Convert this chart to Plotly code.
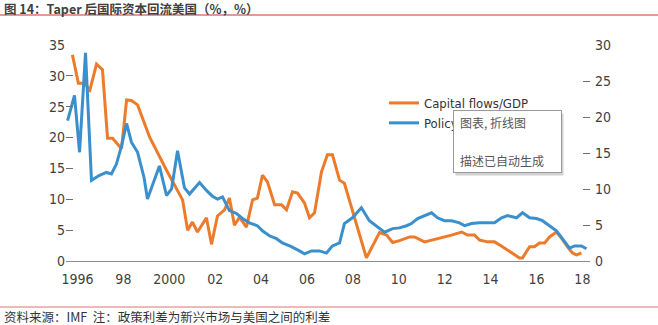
import plotly.graph_objects as go

# ---- data -------------------------------------------------------------
# Capital flows / GDP (%, left axis)
flow_year = [1996.28, 1996.54, 1996.85, 1997.02, 1997.33, 1997.59, 1997.81, 1998.03,
             1998.42, 1998.64, 1998.85, 1999.12, 1999.64, 2000.07, 2000.38, 2001.08,
             2001.30, 2001.51, 2001.73, 2002.12, 2002.34, 2002.60, 2002.91, 2003.12,
             2003.34, 2003.56, 2003.86, 2004.13, 2004.34, 2004.56, 2004.78, 2005.09,
             2005.39, 2005.61, 2005.87, 2006.09, 2006.39, 2006.61, 2006.83, 2007.13,
             2007.39, 2007.61, 2007.92, 2008.13, 2008.48, 2008.79, 2009.09, 2009.66,
             2009.97, 2010.23, 2010.53, 2010.97, 2011.19, 2011.62, 2011.97, 2012.36,
             2012.80, 2013.24, 2013.50, 2013.80, 2014.02, 2014.37, 2014.67, 2015.02,
             2015.41, 2015.76, 2015.89, 2016.20, 2016.41, 2016.63, 2016.85, 2017.07,
             2017.37, 2017.59, 2017.85, 2018.07, 2018.24, 2018.46]
flow_pct = [33.4, 28.8, 28.8, 27.4, 31.9, 31.0, 19.9, 19.9,
            18.2, 26.1, 26.0, 25.3, 20.1, 16.9, 14.7, 9.9,
            5.0, 6.3, 4.7, 7.0, 2.7, 7.3, 8.3, 10.2,
            5.8, 7.1, 5.5, 9.9, 10.2, 13.9, 12.8, 9.1,
            9.1, 8.3, 11.2, 11.0, 9.4, 7.0, 7.8, 14.4,
            17.2, 17.2, 13.1, 12.6, 8.3, 4.5, 0.5, 4.6,
            4.2, 3.0, 3.3, 3.9, 3.9, 3.1, 3.4, 3.7,
            4.2, 4.7, 4.2, 4.2, 3.4, 3.1, 3.1, 2.3,
            1.3, 0.5, 0.5, 2.3, 2.3, 2.9, 2.9, 3.9,
            4.7, 3.7, 2.3, 1.3, 1.0, 1.3]

# Policy rate differential (%, right axis)
spread_year = [1996.07, 1996.37, 1996.59, 1996.85, 1997.11, 1997.46, 1997.76, 1997.98,
               1998.20, 1998.42, 1998.64, 1998.85, 1999.12, 1999.40, 1999.55, 2000.07,
               2000.38, 2000.60, 2000.86, 2001.16, 2001.38, 2001.82, 2002.12, 2002.38,
               2002.60, 2002.82, 2003.12, 2003.43, 2003.69, 2003.99, 2004.34, 2004.56,
               2004.86, 2005.17, 2005.43, 2005.82, 2006.17, 2006.39, 2006.70, 2007.05,
               2007.35, 2007.61, 2007.92, 2008.13, 2008.48, 2008.87, 2009.22, 2009.66,
               2009.88, 2010.23, 2010.53, 2010.84, 2011.05, 2011.32, 2011.62, 2011.93,
               2012.19, 2012.49, 2012.80, 2013.15, 2013.37, 2013.67, 2014.02, 2014.32,
               2014.67, 2014.98, 2015.24, 2015.63, 2015.89, 2016.20, 2016.50, 2016.76,
               2017.07, 2017.37, 2017.63, 2017.94, 2018.16, 2018.46, 2018.68]
spread_pct = [19.5, 23.0, 15.1, 28.9, 11.2, 11.9, 12.3, 12.1,
              13.5, 16.0, 19.1, 16.5, 15.1, 11.6, 8.6, 13.2,
              9.1, 10.0, 15.3, 10.2, 9.3, 10.9, 9.8, 9.0,
              8.6, 8.9, 7.0, 6.6, 5.9, 5.3, 4.9, 4.2,
              3.5, 3.1, 2.5, 2.0, 1.4, 1.0, 1.4, 1.4,
              1.1, 2.1, 2.5, 5.2, 6.0, 7.4, 5.6, 4.6,
              4.0, 4.5, 4.6, 4.9, 5.2, 5.9, 6.3, 6.7,
              6.0, 5.6, 5.6, 5.3, 4.9, 5.2, 5.3, 5.3,
              5.3, 6.0, 6.3, 6.0, 6.7, 6.0, 5.9, 5.6,
              4.9, 4.2, 3.1, 1.8, 2.1, 2.1, 1.7]

left_ticks = [0, 5, 10, 15, 20, 25, 30, 35]
right_ticks = [0, 5, 10, 15, 20, 25, 30]
label_years = [1996, 1998, 2000, 2002, 2004, 2006, 2008, 2010, 2012, 2014, 2016, 2018]
year_labels = ["1996", "98", "2000", "02", "04", "06", "08", "10", "12", "14", "16", "18"]

title_text = "图 14：Taper 后国际资本回流美国（%，%）"
source_text = "资料来源：IMF  注：政策利差为新兴市场与美国之间的利差"
popup_lines = ["图表, 折线图", "描述已自动生成"]

# ---- styling ----------------------------------------------------------
W, H = 658, 325
L, R, T, B = 66, 68, 45, 64
PW, PH = W - L - R, H - T - B

ORANGE = "#EC7B2C"
BLUE = "#3A90CC"
AXIS = "#8C8C8C"
TXT = "#3F3F3F"
RED = "#D9786F"
NARROW = "Liberation Sans Narrow, Arial Narrow, DejaVu Sans Condensed, sans-serif"
CJK = "Noto Sans CJK SC, sans-serif"


def fx(p):
    """pixel x -> paper x"""
    return (p - L) / PW


def fy(p):
    """pixel y -> paper y"""
    return (H - B - p) / PH


x_end = 1996 + PW / 22.95

fig = go.Figure()
fig.add_trace(go.Scatter(x=flow_year, y=flow_pct, mode="lines", name="Capital flows/GDP",
                         line=dict(color=ORANGE, width=3), xaxis="x", yaxis="y"))
fig.add_trace(go.Scatter(x=spread_year, y=spread_pct, mode="lines",
                         name="Policy rate differential",
                         line=dict(color=BLUE, width=3), xaxis="x", yaxis="y2"))

tickfont = dict(family=NARROW, size=14, color=TXT)

fig.update_layout(
    width=W, height=H,
    margin=dict(l=L, r=R, t=T, b=B, autoexpand=False),
    paper_bgcolor="white", plot_bgcolor="white",
    showlegend=True,
    legend=dict(x=fx(384), y=fy(88), xanchor="left", yanchor="top",
                bgcolor="rgba(0,0,0,0)", font=dict(family=NARROW, size=13, color="#333"),
                tracegroupgap=0, itemclick=False),
    xaxis=dict(range=[1996, x_end], tickmode="array",
               tickvals=[y + 0.5 for y in label_years], ticktext=year_labels,
               ticks="outside", ticklen=5, tickcolor="rgba(0,0,0,0)",
               showline=True, linecolor=AXIS, linewidth=1.2,
               showgrid=False, zeroline=False, tickfont=tickfont),
    xaxis2=dict(range=[1996, x_end], overlaying="x", anchor="y", side="bottom",
                tickmode="linear", tick0=1996, dtick=1, ticks="inside",
                ticklen=5, tickwidth=1, tickcolor=AXIS,
                minor=dict(tickmode="linear", tick0=1996, dtick=0.25, ticks="inside",
                           ticklen=3, tickwidth=1, tickcolor=AXIS),
                showticklabels=False, showline=False, showgrid=False, zeroline=False),
    yaxis=dict(range=[0, 35], tickmode="array", tickvals=left_ticks,
               ticks="inside", ticklen=7, tickwidth=1.3, tickcolor="#6E6E6E",
               showline=False, showgrid=False, zeroline=False, tickfont=tickfont),
    yaxis2=dict(range=[0, 30], tickmode="array", tickvals=right_ticks,
                overlaying="y", side="right", anchor="x",
                ticks="inside", ticklen=7, tickwidth=1.3, tickcolor="#6E6E6E",
                ticklabelstandoff=4,
                showline=False, showgrid=False, zeroline=False, tickfont=tickfont),
)

# header / footer rules
fig.add_shape(type="line", xref="paper", yref="paper", x0=fx(0), x1=fx(W),
              y0=fy(15), y1=fy(15), line=dict(color=RED, width=1.5))
fig.add_shape(type="line", xref="paper", yref="paper", x0=fx(0), x1=fx(W),
              y0=fy(307), y1=fy(307), line=dict(color=RED, width=1.2))

annotations = [
    dict(text=f"<b>{title_text}</b>", x=fx(2), y=fy(8), xanchor="left", yanchor="middle",
         font=dict(family=CJK, size=12.5, color="#404040")),
    dict(text=source_text, x=fx(2), y=fy(316), xanchor="left", yanchor="middle",
         font=dict(family=CJK, size=12.5, color="#333")),
    # pop-up box shadow
    dict(text=" ", x=fx(455), y=fy(113), xanchor="left", yanchor="top",
         width=107, height=61, bgcolor="rgba(0,0,0,0.18)", borderpad=0,
         font=dict(size=6)),
    # pop-up box
    dict(text=" ", x=fx(453), y=fy(110), xanchor="left", yanchor="top",
         width=107, height=61, bgcolor="white", bordercolor="#9A9A9A", borderwidth=1,
         borderpad=0, font=dict(size=6)),
    dict(text=popup_lines[0], x=fx(458), y=fy(122), xanchor="left", yanchor="middle",
         font=dict(family=CJK, size=12, color="#555")),
    dict(text=popup_lines[1], x=fx(458), y=fy(160), xanchor="left", yanchor="middle",
         font=dict(family=CJK, size=12, color="#555")),
]
for a in annotations:
    a.setdefault("xref", "paper")
    a.setdefault("yref", "paper")
    a.setdefault("showarrow", False)
    fig.add_annotation(**a)

fig.write_html("out.html")
